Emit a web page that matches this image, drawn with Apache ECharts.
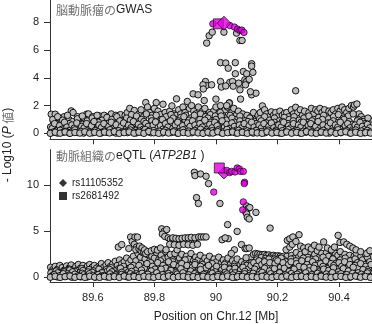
<!DOCTYPE html>
<html>
<head>
<meta charset="utf-8">
<script src="https://cdn.jsdelivr.net/npm/echarts@6/dist/echarts.min.js"></script>
<style>
  html, body { margin: 0; padding: 0; background: #fff; }
  #chart { width: 372px; height: 324px; }
</style>
</head>
<body>
<div id="chart"></div>
<script>
// ---- axis ticks -------------------------------------------------------
const positionTicks = [89.6, 89.8, 90, 90.2, 90.4];
const gwasTicks = [0, 2, 4, 6, 8];
const eqtlTicks = [0, 5, 10];

// ---- GWAS (cerebral aneurysm): [position Mb, -log10 P] ----------------
const gwasUpper = [
  [89.465,1.38],[89.472,0.9],[89.478,1.38],[89.485,0.7],[89.492,1.1],[89.5,0.85],[89.507,1.2],[89.515,0.6],
  [89.522,1.0],[89.53,1.62],[89.536,1.5],[89.543,0.8],[89.55,1.2],[89.557,0.95],[89.565,0.7],[89.572,1.1],
  [89.58,1.38],[89.586,1.4],[89.594,0.9],[89.6,1.2],[89.607,0.75],[89.615,1.05],[89.622,1.25],[89.63,0.9],
  [89.637,1.3],[89.645,1.0],[89.652,1.2],[89.66,1.4],[89.667,0.85],[89.675,1.3],[89.682,1.1],[89.69,1.35],
  [89.697,0.95],[89.705,1.3],[89.712,1.5],[89.72,1.8],[89.727,1.2],[89.735,1.65],[89.742,1.0],[89.75,1.4],
  [89.757,1.7],[89.765,1.2],[89.772,2.22],[89.778,1.9],[89.785,1.5],[89.792,1.3],[89.8,1.8],[89.806,2.22],
  [89.812,1.6],[89.82,1.35],[89.828,2.1],[89.835,1.5],[89.842,1.2],[89.85,1.6],[89.857,1.98],[89.864,1.4],
  [89.872,1.3],[89.879,1.7],[89.886,1.4],[89.893,1.9],[89.9,1.5],[89.907,2.3],[89.914,1.8],[89.921,2.0],
  [89.928,1.6],[89.935,1.4],[89.943,1.9],[89.95,1.2],[89.957,1.6],[89.964,1.8],[89.972,1.3],[89.979,1.5],
  [89.986,1.1],[89.993,1.6],[90.0,1.9],[90.008,1.4],[90.015,2.0],[90.022,1.3],[90.03,1.7],[90.037,1.9],
  [90.044,2.2],[90.051,1.5],[90.058,1.8],[90.066,1.3],[90.073,1.6],[90.08,1.2],[90.087,1.4],[90.094,1.1],
  [90.101,1.3],[90.108,0.9],[90.115,1.2],[90.122,1.5],[90.13,1.0],[90.137,1.3],[90.144,1.5],[90.151,1.98],
  [90.158,1.7],[90.165,1.4],[90.172,1.2],[90.18,1.55],[90.187,1.3],[90.194,1.5],[90.201,1.2],[90.208,1.6],
  [90.216,1.3],[90.223,1.45],[90.23,1.5],[90.237,1.2],[90.245,1.7],[90.252,1.4],[90.259,1.88],[90.266,1.5],
  [90.274,1.7],[90.281,1.3],[90.288,1.6],[90.295,1.2],[90.302,1.5],[90.31,1.8],[90.317,1.4],[90.324,1.7],
  [90.331,1.6],[90.338,1.8],[90.345,1.5],[90.353,1.7],[90.36,1.3],[90.367,1.6],[90.374,1.5],[90.381,1.7],
  [90.389,1.4],[90.396,1.8],[90.403,1.6],[90.41,1.9],[90.418,1.7],[90.425,1.5],[90.432,1.8],[90.44,2.0],
  [90.447,1.9],[90.45,2.05],[90.458,2.12],[90.465,1.4],[90.472,1.2],[90.48,1.0],[90.488,0.8],[90.495,1.05],
  [90.502,0.9]
];
const gwasUpperMid = [
  [89.47,1.0],[89.486,1.2],[89.502,0.95],[89.518,1.3],[89.534,0.85],[89.55,1.05],[89.566,1.25],[89.582,0.9],
  [89.598,1.1],[89.614,1.3],[89.63,0.95],[89.646,1.15],[89.662,1.0],[89.678,1.2],[89.694,0.9],[89.71,1.1],
  [89.726,1.35],[89.742,1.25],[89.758,1.0],[89.774,1.4],[89.79,1.1],[89.806,1.3],[89.822,1.0],[89.838,1.2],
  [89.854,1.35],[89.87,1.0],[89.886,1.15],[89.902,1.3],[89.918,1.1],[89.934,1.0],[89.95,1.4],[89.966,1.2],
  [89.982,1.35],[89.998,1.25],[90.014,1.5],[90.03,1.1],[90.046,1.3],[90.062,1.0],[90.078,1.25],[90.094,0.9],
  [90.11,1.1],[90.126,0.85],[90.142,1.05],[90.158,1.2],[90.174,0.95],[90.19,1.1],[90.206,0.9],[90.222,1.15],
  [90.238,1.0],[90.254,1.2],[90.27,0.95],[90.286,1.1],[90.302,1.25],[90.318,1.0],[90.334,1.15],[90.35,1.3],
  [90.366,1.05],[90.382,1.2],[90.398,1.35],[90.414,1.1],[90.43,1.25],[90.446,1.4],[90.462,1.0],[90.478,0.85],
  [90.494,1.1]
];
const gwasMiddle = [
  [89.463,0.45],[89.471,0.2],[89.479,0.6],[89.488,0.35],[89.497,0.15],[89.505,0.5],[89.514,0.3],[89.523,0.7],
  [89.531,0.25],[89.54,0.55],[89.549,0.1],[89.557,0.4],[89.566,0.65],[89.575,0.3],[89.583,0.5],[89.592,0.2],
  [89.601,0.6],[89.61,0.35],[89.618,0.8],[89.627,0.45],[89.636,0.2],[89.644,0.55],[89.653,0.75],[89.662,0.3],
  [89.67,0.6],[89.679,0.4],[89.688,0.9],[89.696,0.25],[89.705,0.65],[89.714,0.5],[89.722,0.95],[89.731,0.35],
  [89.74,0.7],[89.748,0.55],[89.757,0.3],[89.766,0.85],[89.774,0.6],[89.783,0.4],[89.792,0.9],[89.8,0.55],
  [89.809,0.3],[89.818,0.75],[89.826,1.0],[89.835,0.45],[89.844,0.8],[89.852,0.6],[89.861,1.1],[89.87,0.4],
  [89.878,0.9],[89.887,0.65],[89.896,1.2],[89.904,0.5],[89.913,0.95],[89.922,0.7],[89.93,1.3],[89.939,0.45],
  [89.948,1.0],[89.956,0.75],[89.965,0.55],[89.974,1.1],[89.982,0.8],[89.991,0.6],[90.0,1.0],[90.008,0.5],
  [90.017,1.25],[90.026,0.7],[90.034,0.95],[90.043,0.6],[90.052,1.1],[90.06,0.8],[90.069,0.5],[90.078,0.9],
  [90.086,0.65],[90.095,0.4],[90.104,0.85],[90.112,0.55],[90.121,0.3],[90.13,0.7],[90.138,0.5],[90.147,0.9],
  [90.156,0.35],[90.164,0.75],[90.173,0.55],[90.182,0.3],[90.19,0.8],[90.199,0.6],[90.208,0.4],[90.216,0.85],
  [90.225,0.5],[90.234,0.7],[90.242,0.35],[90.251,0.9],[90.26,0.6],[90.268,0.45],[90.277,0.8],[90.286,0.3],
  [90.294,0.65],[90.303,0.5],[90.312,0.9],[90.32,0.4],[90.329,0.7],[90.338,0.55],[90.346,1.0],[90.355,0.35],
  [90.364,0.75],[90.372,0.6],[90.381,0.9],[90.39,0.45],[90.398,0.8],[90.407,0.6],[90.416,1.0],[90.424,0.5],
  [90.433,0.85],[90.442,0.65],[90.45,0.4],[90.459,0.9],[90.468,0.55],[90.476,0.3],[90.485,0.7],[90.494,0.45],
  [90.502,0.6]
];
const gwasDense = [
  [89.468,0.35],[89.476,0.7],[89.484,0.2],[89.492,0.55],[89.5,0.3],[89.508,0.8],[89.516,0.45],[89.524,0.2],
  [89.532,0.6],[89.54,0.38],[89.548,0.75],[89.556,0.25],[89.564,0.5],[89.572,0.4],[89.58,0.7],[89.588,0.28],
  [89.596,0.55],[89.604,0.85],[89.612,0.3],[89.62,0.6],[89.628,0.42],[89.636,0.7],[89.644,0.25],[89.652,0.5],
  [89.66,0.8],[89.668,0.35],[89.676,0.62],[89.684,0.2],[89.692,0.48],[89.7,0.75],[89.708,0.3],[89.716,0.58],
  [89.724,0.4],[89.732,0.85],[89.74,0.22],[89.748,0.65],[89.756,0.45],[89.764,0.3],[89.772,0.72],[89.78,0.5],
  [89.788,0.25],[89.796,0.6],[89.804,0.82],[89.812,0.4],[89.82,0.55],[89.828,0.3],[89.836,0.7],[89.844,0.45],
  [89.852,0.9],[89.86,0.35],[89.868,0.6],[89.876,0.8],[89.884,0.4],[89.892,0.55],[89.9,0.3],[89.908,0.75],
  [89.916,0.5],[89.924,0.9],[89.932,0.6],[89.94,0.35],[89.948,0.7],[89.956,0.45],[89.964,0.95],[89.972,0.3],
  [89.98,0.65],[89.988,0.4],[89.996,0.8],[90.004,0.55],[90.012,0.3],[90.02,0.9],[90.028,0.45],[90.036,0.65],
  [90.044,0.35],[90.052,0.75],[90.06,0.5],[90.068,0.25],[90.076,0.6],[90.084,0.4],[90.092,0.7],[90.1,0.3],
  [90.108,0.55],[90.116,0.8],[90.124,0.45],[90.132,0.25],[90.14,0.6],[90.148,0.4],[90.156,0.7],[90.164,0.3],
  [90.172,0.5],[90.18,0.75],[90.188,0.4],[90.196,0.25],[90.204,0.6],[90.212,0.45],[90.22,0.8],[90.228,0.3],
  [90.236,0.55],[90.244,0.4],[90.252,0.7],[90.26,0.25],[90.268,0.6],[90.276,0.45],[90.284,0.8],[90.292,0.35],
  [90.3,0.55],[90.308,0.7],[90.316,0.3],[90.324,0.5],[90.332,0.85],[90.34,0.4],[90.348,0.6],[90.356,0.25],
  [90.364,0.5],[90.372,0.75],[90.38,0.35],[90.388,0.6],[90.396,0.45],[90.404,0.8],[90.412,0.3],[90.42,0.55],
  [90.428,0.7],[90.436,0.4],[90.444,0.25],[90.452,0.6],[90.46,0.45],[90.468,0.8],[90.476,0.5],[90.484,0.3],
  [90.492,0.65],[90.5,0.4]
];
const gwasLow = [
  [89.466,0.05],[89.475,0.12],[89.485,0.02],[89.494,0.22],[89.504,0.08],[89.513,0.15],[89.523,0.03],[89.532,0.1],
  [89.542,0.25],[89.551,0.06],[89.561,0.14],[89.57,0.02],[89.58,0.18],[89.589,0.09],[89.599,0.04],[89.608,0.2],
  [89.618,0.11],[89.627,0.03],[89.637,0.16],[89.646,0.07],[89.656,0.26],[89.665,0.1],[89.675,0.02],[89.684,0.19],
  [89.694,0.08],[89.703,0.13],[89.713,0.05],[89.722,0.24],[89.732,0.1],[89.741,0.03],[89.751,0.17],[89.76,0.07],
  [89.77,0.28],[89.779,0.12],[89.789,0.04],[89.798,0.2],[89.808,0.09],[89.817,0.15],[89.827,0.03],[89.836,0.22],
  [89.846,0.1],[89.855,0.06],[89.865,0.18],[89.874,0.02],[89.884,0.14],[89.893,0.25],[89.903,0.08],[89.912,0.16],
  [89.922,0.04],[89.931,0.21],[89.941,0.1],[89.95,0.3],[89.96,0.06],[89.969,0.15],[89.979,0.02],[89.988,0.19],
  [89.998,0.09],[90.007,0.24],[90.017,0.05],[90.026,0.13],[90.036,0.28],[90.045,0.07],[90.055,0.17],[90.064,0.03],
  [90.074,0.22],[90.083,0.1],[90.093,0.05],[90.102,0.18],[90.112,0.12],[90.121,0.02],[90.131,0.2],[90.14,0.08],
  [90.15,0.14],[90.159,0.04],[90.169,0.23],[90.178,0.1],[90.188,0.06],[90.197,0.16],[90.207,0.02],[90.216,0.19],
  [90.226,0.09],[90.235,0.27],[90.245,0.05],[90.254,0.13],[90.264,0.2],[90.273,0.03],[90.283,0.15],[90.292,0.08],
  [90.302,0.25],[90.311,0.11],[90.321,0.04],[90.33,0.18],[90.34,0.07],[90.349,0.22],[90.359,0.1],[90.368,0.02],
  [90.378,0.16],[90.387,0.09],[90.397,0.26],[90.406,0.05],[90.416,0.14],[90.425,0.2],[90.435,0.03],[90.444,0.12],
  [90.454,0.24],[90.463,0.07],[90.473,0.17],[90.482,0.04],[90.492,0.21],[90.501,0.1]
];
const gwasFloor = [
  [89.462,0.0],[89.478,0.08],[89.494,0.01],[89.51,0.1],[89.526,0.0],[89.542,0.06],[89.558,0.02],[89.574,0.11],
  [89.59,0.01],[89.606,0.07],[89.622,0.0],[89.638,0.09],[89.654,0.03],[89.67,0.12],[89.686,0.0],[89.702,0.05],
  [89.718,0.1],[89.734,0.01],[89.75,0.08],[89.766,0.0],[89.782,0.13],[89.798,0.04],[89.814,0.0],[89.83,0.09],
  [89.846,0.02],[89.862,0.11],[89.878,0.0],[89.894,0.06],[89.91,0.01],[89.926,0.1],[89.942,0.03],[89.958,0.0],
  [89.974,0.08],[89.99,0.02],[90.006,0.12],[90.022,0.0],[90.038,0.05],[90.054,0.1],[90.07,0.01],[90.086,0.07],
  [90.102,0.0],[90.118,0.09],[90.134,0.03],[90.15,0.0],[90.166,0.11],[90.182,0.02],[90.198,0.06],[90.214,0.0],
  [90.23,0.1],[90.246,0.01],[90.262,0.07],[90.278,0.0],[90.294,0.12],[90.31,0.03],[90.326,0.0],[90.342,0.09],
  [90.358,0.02],[90.374,0.1],[90.39,0.0],[90.406,0.06],[90.422,0.11],[90.438,0.01],[90.454,0.08],[90.47,0.0],
  [90.486,0.05],[90.502,0.02]
];
const gwasPeak = [
  [89.97,6.51],[89.978,7.04],[89.988,7.3],[90.026,7.3],[90.067,7.23],[90.078,6.7],[90.085,6.7],
  [90.015,5.1],[90.032,5.07],[90.063,5.1],[90.04,4.7],[90.063,4.3],[90.089,4.46],[90.1,4.3],
  [90.116,5.02],[90.116,4.85],[90.12,4.4],[90.094,3.86],[90.1,3.75],[90.108,3.9],[90.096,3.5],
  [89.966,3.74],[89.968,3.45],[89.958,3.5],[89.986,3.5],[89.959,3.2],[90.015,3.74],[90.018,3.34],
  [90.045,3.67],[90.054,3.74],[90.032,3.42],[90.056,3.4],[90.074,3.62],[90.078,3.14],[90.08,2.47],
  [90.116,2.78],[90.13,2.9],[90.112,3.0],[89.926,2.85],[89.942,2.78],[89.872,2.49],[89.962,2.37],
  [90.0,2.47],[90.043,2.18],[90.035,2.0],[90.259,3.07]
];
const gwasLead = [
  [89.99,7.9],[90.045,7.78],[90.06,7.67],[90.07,7.52],[90.078,7.42],[90.084,7.45],[90.091,7.28]
];
const gwasSquare = [[90.008,7.9]];   // rs2681492
const gwasDiamond = [[90.026,7.95]]; // rs11105352

// ---- eQTL (arterial tissue, ATP2B1): [position Mb, -log10 P] ----------
const eqtlUpper = [
  [89.463,1.1],[89.47,0.85],[89.478,1.2],[89.486,0.9],[89.493,1.3],[89.5,1.05],[89.508,0.8],[89.515,1.25],
  [89.523,1.0],[89.53,1.35],[89.538,0.9],[89.545,1.2],[89.553,1.4],[89.56,1.0],[89.568,1.3],[89.575,0.95],
  [89.583,1.25],[89.59,1.4],[89.598,1.1],[89.605,1.3],[89.613,0.9],[89.62,1.2],[89.628,1.5],[89.635,1.1],
  [89.643,1.35],[89.65,1.6],[89.658,1.2],[89.665,1.45],[89.673,1.75],[89.68,1.3],[89.687,1.9],[89.694,1.5],
  [89.702,1.7],[89.71,2.1],[89.717,1.6],[89.724,1.9],[89.732,2.3],[89.74,1.8],[89.747,2.6],[89.755,2.2],
  [89.762,2.7],[89.77,2.0],[89.777,2.5],[89.785,1.8],[89.792,2.3],[89.8,2.1],[89.807,2.7],[89.814,1.9],
  [89.822,2.4],[89.83,2.0],[89.837,2.8],[89.845,2.2],[89.852,2.5],[89.86,1.9],[89.867,2.6],[89.874,3.0],
  [89.882,2.1],[89.889,2.5],[89.897,1.9],[89.904,2.3],[89.912,2.0],[89.919,2.6],[89.927,1.8],[89.934,2.2],
  [89.942,1.9],[89.949,2.4],[89.957,1.7],[89.964,2.1],[89.972,1.8],[89.979,2.3],[89.987,1.6],[89.994,2.0],
  [90.002,1.7],[90.009,2.2],[90.017,1.5],[90.024,1.9],[90.032,1.6],[90.039,2.1],[90.047,1.4],[90.054,1.8],
  [90.062,1.5],[90.069,2.0],[90.077,1.3],[90.084,1.7],[90.092,1.4],[90.099,1.9],[90.107,1.5],[90.114,2.2],
  [90.122,2.5],[90.129,2.6],[90.136,2.55],[90.143,2.5],[90.15,2.45],[90.158,2.5],[90.165,2.4],[90.172,2.45],
  [90.18,2.35],[90.187,2.4],[90.194,2.3],[90.202,2.35],[90.209,2.3],[90.216,2.25],[90.224,2.0],[90.231,2.3],
  [90.239,1.8],[90.246,2.4],[90.254,2.1],[90.261,2.7],[90.269,2.2],[90.276,2.5],[90.284,1.9],[90.291,2.6],
  [90.299,2.2],[90.306,2.8],[90.314,2.0],[90.321,2.5],[90.329,2.9],[90.336,2.2],[90.344,2.6],[90.351,2.0],
  [90.359,2.7],[90.366,2.3],[90.374,2.9],[90.381,2.1],[90.389,2.6],[90.396,2.4],[90.404,2.8],[90.411,2.2],
  [90.419,2.5],[90.426,2.0],[90.434,2.4],[90.441,1.9],[90.449,2.3],[90.456,2.6],[90.464,2.0],[90.471,2.3],
  [90.479,1.8],[90.486,2.5],[90.494,2.7],[90.501,2.2],
  [90.133,2.1],[90.147,2.15],[90.161,2.05],[90.176,2.1],[90.19,2.0],[90.205,2.05],[90.219,1.95]
];
const eqtlDense = [
  [89.468,0.6],[89.476,0.35],[89.484,0.8],[89.492,0.5],[89.5,0.25],[89.508,0.7],[89.516,0.45],[89.524,0.9],
  [89.532,0.55],[89.54,0.3],[89.548,0.75],[89.556,0.5],[89.564,0.95],[89.572,0.4],[89.58,0.65],[89.588,0.85],
  [89.596,0.35],[89.604,0.6],[89.612,1.0],[89.62,0.45],[89.628,0.7],[89.636,0.3],[89.644,0.85],[89.652,0.55],
  [89.66,1.05],[89.668,0.4],[89.676,0.75],[89.684,0.95],[89.692,0.5],[89.7,1.2],[89.708,0.65],[89.716,0.9],
  [89.724,0.4],[89.732,1.3],[89.74,0.7],[89.748,1.0],[89.756,1.5],[89.764,0.6],[89.772,1.2],[89.78,0.85],
  [89.788,1.6],[89.796,1.0],[89.804,0.55],[89.812,1.3],[89.82,1.8],[89.828,0.9],[89.836,1.5],[89.844,1.1],
  [89.852,0.6],[89.86,1.7],[89.868,1.2],[89.876,0.8],[89.884,1.5],[89.892,1.0],[89.9,1.9],[89.908,0.7],
  [89.916,1.3],[89.924,1.0],[89.932,1.6],[89.94,0.5],[89.948,1.1],[89.956,1.4],[89.964,0.8],[89.972,1.2],
  [89.98,0.6],[89.988,1.5],[89.996,0.9],[90.004,0.4],[90.012,1.1],[90.02,0.7],[90.028,1.4],[90.036,0.6],
  [90.044,1.0],[90.052,0.35],[90.06,1.2],[90.068,0.8],[90.076,0.5],[90.084,1.0],[90.092,0.6],[90.1,1.3],
  [90.108,0.9],[90.116,1.6],[90.124,1.1],[90.132,1.9],[90.14,1.4],[90.148,0.9],[90.156,1.8],[90.164,1.3],
  [90.172,2.0],[90.18,1.5],[90.188,1.1],[90.196,1.9],[90.204,1.4],[90.212,2.1],[90.22,1.2],[90.228,1.7],
  [90.236,1.0],[90.244,2.0],[90.252,1.4],[90.26,1.8],[90.268,0.9],[90.276,1.6],[90.284,2.1],[90.292,1.2],
  [90.3,1.9],[90.308,1.4],[90.316,0.8],[90.324,2.0],[90.332,1.5],[90.34,1.1],[90.348,2.2],[90.356,1.3],
  [90.364,1.7],[90.372,1.0],[90.38,2.0],[90.388,1.5],[90.396,1.2],[90.404,1.9],[90.412,1.4],[90.42,2.1],
  [90.428,1.1],[90.436,1.8],[90.444,1.3],[90.452,2.0],[90.46,1.6],[90.468,1.0],[90.476,1.9],[90.484,1.4],
  [90.492,2.2],[90.5,1.7]
];
const eqtlMiddle = [
  [89.464,0.5],[89.473,0.3],[89.481,0.7],[89.49,0.45],[89.499,0.2],[89.507,0.6],[89.516,0.35],[89.525,0.8],
  [89.533,0.4],[89.542,0.65],[89.551,0.25],[89.559,0.55],[89.568,0.75],[89.577,0.35],[89.585,0.6],[89.594,0.3],
  [89.603,0.7],[89.612,0.45],[89.62,0.9],[89.629,0.5],[89.638,0.3],[89.646,0.65],[89.655,0.85],[89.664,0.4],
  [89.672,0.7],[89.681,0.5],[89.69,1.0],[89.698,0.35],[89.707,0.75],[89.716,0.6],[89.724,1.1],[89.733,0.45],
  [89.742,0.8],[89.75,1.3],[89.759,0.6],[89.768,1.0],[89.776,1.5],[89.785,0.7],[89.794,1.2],[89.802,0.9],
  [89.811,1.6],[89.82,0.8],[89.828,1.3],[89.837,1.0],[89.846,1.7],[89.854,0.9],[89.863,1.4],[89.872,0.7],
  [89.88,1.2],[89.889,1.5],[89.898,0.8],[89.906,1.3],[89.915,0.6],[89.924,1.1],[89.932,1.4],[89.941,0.7],
  [89.95,1.2],[89.958,0.5],[89.967,1.0],[89.976,1.3],[89.984,0.6],[89.993,0.9],[90.002,1.2],[90.01,0.5],
  [90.019,0.8],[90.028,1.1],[90.036,0.4],[90.045,0.9],[90.054,0.6],[90.062,1.0],[90.071,0.5],[90.08,0.8],
  [90.088,1.1],[90.097,0.6],[90.106,0.9],[90.114,1.3],[90.123,1.6],[90.132,1.2],[90.14,1.8],[90.149,1.4],
  [90.158,1.7],[90.166,1.2],[90.175,1.6],[90.184,1.0],[90.192,1.5],[90.201,1.8],[90.21,1.1],[90.218,1.6],
  [90.227,0.9],[90.236,1.4],[90.244,1.7],[90.253,1.0],[90.262,1.5],[90.27,1.2],[90.279,1.8],[90.288,0.9],
  [90.296,1.4],[90.305,1.1],[90.314,1.7],[90.322,1.3],[90.331,0.8],[90.34,1.5],[90.348,1.2],[90.357,1.8],
  [90.366,1.0],[90.374,1.5],[90.383,1.3],[90.392,0.9],[90.4,1.6],[90.409,1.2],[90.418,1.7],[90.426,1.0],
  [90.435,1.4],[90.444,0.8],[90.452,1.3],[90.461,1.0],[90.47,1.5],[90.478,0.7],[90.487,1.2],[90.496,0.9],
  [90.504,1.4]
];
const eqtlLowMid = [
  [89.47,0.2],[89.486,0.5],[89.502,0.1],[89.518,0.4],[89.534,0.6],[89.55,0.25],[89.566,0.45],[89.582,0.05],
  [89.598,0.55],[89.614,0.3],[89.63,0.5],[89.646,0.15],[89.662,0.6],[89.678,0.35],[89.694,0.55],[89.71,0.2],
  [89.726,0.65],[89.742,0.4],[89.758,0.8],[89.774,0.3],[89.79,0.7],[89.806,0.45],[89.822,0.9],[89.838,0.35],
  [89.854,0.75],[89.87,0.5],[89.886,0.95],[89.902,0.3],[89.918,0.7],[89.934,0.5],[89.95,0.85],[89.966,0.4],
  [89.982,0.25],[89.998,0.6],[90.014,0.35],[90.03,0.55],[90.046,0.2],[90.062,0.5],[90.078,0.3],[90.094,0.65],
  [90.11,0.45],[90.126,0.9],[90.142,0.6],[90.158,1.0],[90.174,0.7],[90.19,0.95],[90.206,0.55],[90.222,1.0],
  [90.238,0.65],[90.254,0.9],[90.27,0.5],[90.286,1.1],[90.302,0.7],[90.318,1.0],[90.334,0.6],[90.35,0.9],
  [90.366,0.75],[90.382,1.05],[90.398,0.6],[90.414,0.95],[90.43,0.7],[90.446,1.1],[90.462,0.5],[90.478,0.85],
  [90.494,0.65]
];
const eqtlLow = [
  [89.466,0.1],[89.475,0.3],[89.485,0.05],[89.494,0.2],[89.504,0.4],[89.513,0.12],[89.523,0.25],[89.532,0.02],
  [89.542,0.35],[89.551,0.15],[89.561,0.06],[89.57,0.28],[89.58,0.1],[89.589,0.4],[89.599,0.18],[89.608,0.03],
  [89.618,0.3],[89.627,0.12],[89.637,0.22],[89.646,0.05],[89.656,0.38],[89.665,0.15],[89.675,0.26],[89.684,0.08],
  [89.694,0.33],[89.703,0.18],[89.713,0.04],[89.722,0.4],[89.732,0.2],[89.741,0.1],[89.751,0.3],[89.76,0.45],
  [89.77,0.15],[89.779,0.35],[89.789,0.06],[89.798,0.25],[89.808,0.5],[89.817,0.14],[89.827,0.3],[89.836,0.02],
  [89.846,0.42],[89.855,0.2],[89.865,0.08],[89.874,0.36],[89.884,0.16],[89.893,0.5],[89.903,0.1],[89.912,0.28],
  [89.922,0.05],[89.931,0.4],[89.941,0.2],[89.95,0.12],[89.96,0.34],[89.969,0.06],[89.979,0.25],[89.988,0.45],
  [89.998,0.14],[90.007,0.3],[90.017,0.04],[90.026,0.22],[90.036,0.38],[90.045,0.1],[90.055,0.27],[90.064,0.02],
  [90.074,0.32],[90.083,0.15],[90.093,0.4],[90.102,0.08],[90.112,0.24],[90.121,0.45],[90.131,0.12],[90.14,0.3],
  [90.15,0.55],[90.159,0.2],[90.169,0.06],[90.178,0.4],[90.188,0.15],[90.197,0.32],[90.207,0.5],[90.216,0.1],
  [90.226,0.28],[90.235,0.04],[90.245,0.42],[90.254,0.18],[90.264,0.35],[90.273,0.08],[90.283,0.26],[90.292,0.5],
  [90.302,0.12],[90.311,0.3],[90.321,0.05],[90.33,0.44],[90.34,0.2],[90.349,0.1],[90.359,0.36],[90.368,0.15],
  [90.378,0.52],[90.387,0.06],[90.397,0.28],[90.406,0.4],[90.416,0.12],[90.425,0.3],[90.435,0.02],[90.444,0.45],
  [90.454,0.2],[90.463,0.08],[90.473,0.34],[90.482,0.16],[90.492,0.48],[90.501,0.1]
];
const eqtlFloor = [
  [89.462,0.02],[89.478,0.12],[89.494,0.0],[89.51,0.08],[89.526,0.15],[89.542,0.01],[89.558,0.1],[89.574,0.0],
  [89.59,0.13],[89.606,0.04],[89.622,0.0],[89.638,0.11],[89.654,0.02],[89.67,0.09],[89.686,0.0],[89.702,0.14],
  [89.718,0.03],[89.734,0.1],[89.75,0.0],[89.766,0.12],[89.782,0.05],[89.798,0.0],[89.814,0.1],[89.83,0.02],
  [89.846,0.15],[89.862,0.0],[89.878,0.08],[89.894,0.12],[89.91,0.01],[89.926,0.09],[89.942,0.0],[89.958,0.13],
  [89.974,0.03],[89.99,0.0],[90.006,0.1],[90.022,0.02],[90.038,0.14],[90.054,0.0],[90.07,0.08],[90.086,0.11],
  [90.102,0.01],[90.118,0.09],[90.134,0.0],[90.15,0.12],[90.166,0.04],[90.182,0.0],[90.198,0.1],[90.214,0.02],
  [90.23,0.15],[90.246,0.0],[90.262,0.08],[90.278,0.12],[90.294,0.01],[90.31,0.1],[90.326,0.0],[90.342,0.13],
  [90.358,0.03],[90.374,0.0],[90.39,0.09],[90.406,0.11],[90.422,0.0],[90.438,0.07],[90.454,0.14],[90.47,0.02],
  [90.486,0.1],[90.502,0.0]
];
const eqtlShoulders = [
  // 89.68-89.81
  [89.683,3.3],[89.694,3.57],[89.717,3.14],[89.723,4.39],[89.728,3.9],[89.735,3.6],[89.737,4.39],[89.742,3.3],
  [89.745,4.39],[89.74,3.0],[89.75,3.1],[89.752,3.4],[89.757,2.9],[89.76,3.2],[89.765,2.8],[89.768,3.0],
  [89.772,2.6],[89.778,2.8],[89.79,2.9],[89.8,3.05],[89.81,2.97],
  // 89.82-89.97 plateau
  [89.824,5.28],[89.832,5.0],[89.84,5.2],[89.826,4.71],[89.834,4.46],[89.845,4.3],[89.852,4.15],[89.86,4.1],
  [89.868,4.05],[89.876,4.0],[89.884,4.0],[89.892,3.95],[89.9,3.95],[89.908,3.9],[89.916,3.85],[89.924,3.8],
  [89.93,3.75],[89.935,3.7],[89.86,4.3],[89.87,4.25],[89.88,4.2],[89.89,4.25],[89.9,4.3],[89.91,4.3],
  [89.92,4.35],[89.932,4.3],[89.944,4.4],[89.952,4.4],[89.96,4.4],[89.968,4.4],[89.85,3.6],[89.865,3.55],
  [89.88,3.5],[89.895,3.6],[89.91,3.55],[89.925,3.5],[89.94,3.6],[89.82,3.2],[89.838,3.0],
  // 90.22-90.50
  [90.228,3.0],[90.232,4.03],[90.24,4.2],[90.24,3.3],[90.248,3.6],[90.25,4.4],[90.26,3.9],[90.27,4.64],
  [90.275,3.4],[90.285,3.2],[90.29,2.8],[90.3,3.3],[90.31,3.1],[90.32,3.5],[90.335,3.3],[90.35,3.86],
  [90.362,3.2],[90.375,3.0],[90.385,3.3],[90.397,4.57],[90.403,3.8],[90.415,3.86],[90.425,3.6],[90.435,3.4],
  [90.445,3.2],[90.455,3.0],[90.47,2.8],[90.49,2.6],[90.5,2.9]
];
const eqtlPeak = [
  [89.93,11.43],[89.932,11.07],[89.95,11.25],[89.968,11.0],[89.976,10.2],[89.937,8.68],[89.943,8.04],
  [90.013,8.04],[90.038,5.74],[90.069,5.0],[90.083,3.57],[90.099,7.78],[90.105,7.5],[90.11,7.6],
  [90.097,7.1],[90.1,6.9],[90.102,6.54],[90.108,6.36],[90.13,7.07],[90.176,5.36],[90.095,3.14],
  [90.1,3.14],[90.108,3.2],[90.098,2.14],[90.04,4.21],[90.02,4.1],[90.03,4.3],[90.06,3.0],[90.05,2.6]
];
const eqtlLead = [
  [90.035,11.64],[90.045,11.4],[90.051,11.53],[90.062,11.47],[90.069,11.9],[90.076,11.8],[90.08,11.53],
  [90.089,11.53],[89.993,9.28],[90.093,10.35],[90.092,10.2],[90.089,8.21],[90.087,7.35]
];
const eqtlSquare = [[90.011,11.9]];   // rs2681492
const eqtlDiamond = [[90.026,11.36]]; // rs11105352

// ---- styling ----------------------------------------------------------
const FONT = '"Liberation Sans", Arial, "Noto Sans CJK JP", sans-serif';
const CJK = '"Noto Sans CJK JP", sans-serif';
const GREY_FILL = '#bdbdbd';
const LEAD_FILL = '#e000e0';
const AXIS = '#333';

function greyScatter(data, idx) {
  return {
    type: 'scatter', xAxisIndex: idx, yAxisIndex: idx, data: data,
    symbol: 'circle', symbolSize: 6.5, z: 2, silent: true,
    itemStyle: { color: GREY_FILL, borderColor: '#000', borderWidth: 0.9, opacity: 1 }
  };
}
function leadScatter(data, idx) {
  return {
    type: 'scatter', xAxisIndex: idx, yAxisIndex: idx, data: data,
    symbol: 'circle', symbolSize: 6.5, z: 3, silent: true,
    itemStyle: { color: LEAD_FILL, borderColor: '#000', borderWidth: 0.8 }
  };
}
function marker(name, data, idx, symbol, size, z) {
  return {
    name: name, type: 'scatter', xAxisIndex: idx, yAxisIndex: idx, data: data,
    symbol: symbol, symbolSize: size, z: z, silent: true,
    itemStyle: { color: LEAD_FILL, borderColor: '#000', borderWidth: 0.8 }
  };
}

function xAxisFor(gridIndex, withLabels) {
  return {
    type: 'value', gridIndex: gridIndex, min: 89.461, max: 90.507,
    splitLine: { show: false },
    axisLine: { show: true, onZero: false, lineStyle: { color: AXIS, width: 1 } },
    axisTick: { show: true, customValues: positionTicks, length: 5, lineStyle: { color: AXIS } },
    axisLabel: {
      show: withLabels, customValues: positionTicks, margin: 10,
      color: '#222', fontSize: 11, fontFamily: FONT
    },
    name: withLabels ? 'Position on Chr.12 [Mb]' : '',
    nameLocation: 'middle', nameGap: 29,
    nameTextStyle: { color: '#222', fontSize: 12, fontFamily: FONT, padding: [0, 0, 0, 10] }
  };
}
function yAxisFor(gridIndex, min, max, ticks) {
  return {
    type: 'value', gridIndex: gridIndex, min: min, max: max,
    splitLine: { show: false },
    axisLine: { show: true, onZero: false, lineStyle: { color: AXIS, width: 1 } },
    axisTick: { show: true, customValues: ticks, length: 6, lineStyle: { color: AXIS } },
    axisLabel: { customValues: ticks, margin: 11, color: '#222', fontSize: 11, fontFamily: FONT }
  };
}

const chart = echarts.init(document.getElementById('chart'), null, { renderer: 'canvas' });
chart.setOption({
  animation: false,
  backgroundColor: '#fff',
  grid: [
    { left: 50, right: 0, top: 0, height: 139.3 },
    { left: 50, right: 0, top: 149.6, height: 134.4 }
  ],
  xAxis: [xAxisFor(0, false), xAxisFor(1, true)],
  yAxis: [yAxisFor(0, -0.43, 9.62, gwasTicks), yAxisFor(1, -0.5, 13.9, eqtlTicks)],
  title: [
    {
      text: '{j|脳動脈瘤の}{l|GWAS}', left: 56, top: 4, padding: 0,
      textStyle: { fontWeight: 'normal', rich: {
        j: { fontFamily: CJK, fontSize: 12, color: '#707070', fontWeight: 'normal' },
        l: { fontFamily: FONT, fontSize: 12, color: '#222', fontWeight: 'normal' }
      } }
    },
    {
      text: '{j|動脈組織の}{l|eQTL (}{i|ATP2B1}{l| )}', left: 56, top: 150, padding: 0,
      textStyle: { fontWeight: 'normal', rich: {
        j: { fontFamily: CJK, fontSize: 12, color: '#707070', fontWeight: 'normal' },
        l: { fontFamily: FONT, fontSize: 12, color: '#222', fontWeight: 'normal' },
        i: { fontFamily: FONT, fontSize: 12, color: '#222', fontStyle: 'italic', fontWeight: 'normal' }
      } }
    }
  ],
  legend: {
    orient: 'vertical', left: 59, top: 178, padding: 0,
    itemWidth: 8, itemHeight: 8, itemGap: 3,
    textStyle: { color: '#222', fontSize: 10, fontFamily: FONT },
    data: [
      { name: 'rs11105352', icon: 'diamond', itemStyle: { color: '#000', borderWidth: 0 } },
      { name: 'rs2681492', icon: 'rect', itemStyle: { color: '#000', borderWidth: 0 } }
    ],
    selectedMode: false
  },
  graphic: [{
    type: 'text', x: 8, y: 145, rotation: Math.PI / 2,
    style: {
      text: '{a|- Log10 (}{i|P}{c| 値}{a|)}',
      align: 'center', verticalAlign: 'middle',
      rich: {
        a: { fontFamily: FONT, fontSize: 12, fill: '#222' },
        i: { fontFamily: FONT, fontSize: 12, fill: '#222', fontStyle: 'italic' },
        c: { fontFamily: CJK, fontSize: 12, fill: '#707070' }
      }
    }
  }],
  series: [
    greyScatter(gwasUpper, 0),
    greyScatter(gwasUpperMid, 0),
    greyScatter(gwasMiddle, 0),
    greyScatter(gwasDense, 0),
    greyScatter(gwasLow, 0),
    greyScatter(gwasFloor, 0),
    greyScatter(gwasPeak, 0),
    leadScatter(gwasLead, 0),
    marker('rs2681492', gwasSquare, 0, 'rect', 10, 4),
    marker('rs11105352', gwasDiamond, 0, 'diamond', 14, 5),

    greyScatter(eqtlUpper, 1),
    greyScatter(eqtlDense, 1),
    greyScatter(eqtlMiddle, 1),
    greyScatter(eqtlLowMid, 1),
    greyScatter(eqtlLow, 1),
    greyScatter(eqtlFloor, 1),
    greyScatter(eqtlShoulders, 1),
    greyScatter(eqtlPeak, 1),
    marker('rs11105352', eqtlDiamond, 1, 'diamond', 12, 3),
    leadScatter(eqtlLead, 1),
    marker('rs2681492', eqtlSquare, 1, 'rect', 10, 5)
  ]
});
</script>
</body>
</html>
